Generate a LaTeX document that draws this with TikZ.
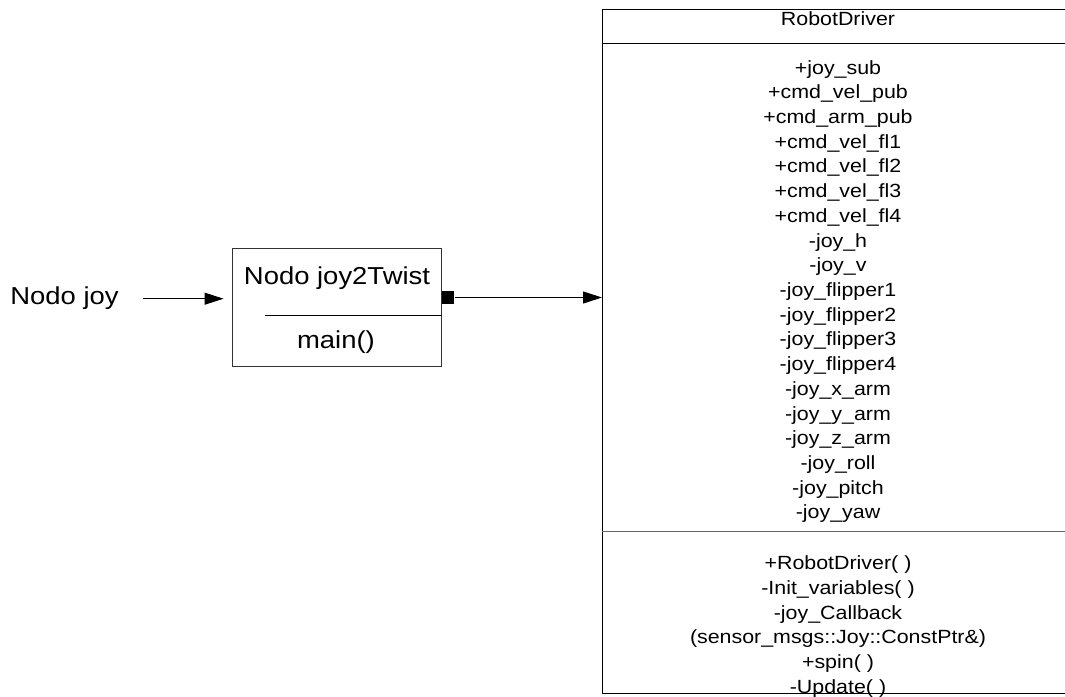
\documentclass[tikz,border=0pt]{standalone}
\usepackage{fontspec}
\setmainfont{Liberation Sans}[FakeStretch=1.12]
\usetikzlibrary{arrows.meta}
\begin{document}
\begin{tikzpicture}[x=1pt,y=-1pt,
  box/.style={draw=black!80, line width=1pt, inner sep=0pt},
  member/.style={font=\fontsize{19.1}{23}\selectfont, anchor=base, inner sep=0pt},
  big/.style={font=\fontsize{24.5}{29}\selectfont, anchor=base, inner sep=0pt},
  flow/.style={line width=1pt, -{Triangle[length=19pt,width=12pt]}}]
\useasboundingbox (0,0) rectangle (1065,696);
\fill[white] (0,0) rectangle (1065,696);

% class box RobotDriver (runs past the right edge)
\node[box, draw=black, minimum width=471.5pt, minimum height=684.2pt] (robot) at (838.25,351.4) {};
\coordinate (div1) at (602,43.3);
\coordinate (div2) at (602,531.7);
\draw[line width=1pt] (div1 -| robot.west) -- (div1 -| robot.east);
\draw[line width=1.5pt, black!60] (div2 -| robot.west) -- (div2 -| robot.east);
\node[member] (title) at (838,25.3) {RobotDriver};
\foreach \t [count=\i from 0] in {+joy\_sub,+cmd\_vel\_pub,+cmd\_arm\_pub,+cmd\_vel\_fl1,+cmd\_vel\_fl2,+cmd\_vel\_fl3,+cmd\_vel\_fl4,-joy\_h,-joy\_v,-joy\_flipper1,-joy\_flipper2,-joy\_flipper3,-joy\_flipper4,-joy\_x\_arm,-joy\_y\_arm,-joy\_z\_arm,-joy\_roll,-joy\_pitch,-joy\_yaw}
  \node[member] (attr\i) at (838,74+24.72*\i) {\t};
\foreach \t [count=\i from 0] in {{+RobotDriver( )},{-Init\_variables( )},{-joy\_Callback},{(sensor\_msgs::Joy::ConstPtr\&)},{+spin( )},{-Update( )}}
  \node[member] (meth\i) at (838,569.5+24.76*\i) {\t};

% node joy2Twist
\node[box] (twist) at (336.9,307.5) [minimum width=209.7pt, minimum height=118.4pt] {};
\node[big] (twname) at (337,284.3) {Nodo joy2Twist};
\coordinate (sep) at (265,315.7);
\draw[line width=1pt] (sep) -- (sep -| twist.east);
\node[big] (twmain) at (336,348.3) {main()};
\node[fill=black, inner sep=0pt, minimum width=12.6pt, minimum height=13.3pt] (port) at (448,297.5) {};

% input node and connectors
\node[big] (joy) at (64.5,304) {Nodo joy};
\coordinate (joyout) at (143.3,298.7);
\draw[flow, shorten >=8pt] (joyout) -- (joyout -| twist.west);
\draw[flow] (port.east) -- (port.east -| robot.west);
\end{tikzpicture}
\end{document}
